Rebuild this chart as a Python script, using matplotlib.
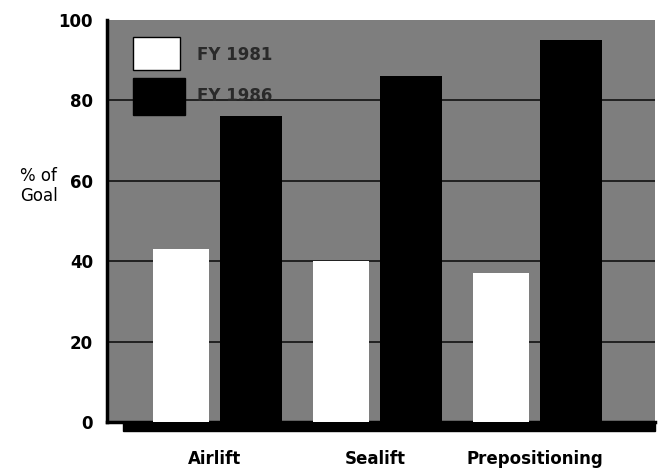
import matplotlib
matplotlib.use("Agg")
import matplotlib.pyplot as plt
from matplotlib.patches import Rectangle

categories = ["Airlift", "Sealift", "Prepositioning"]
series_names = ["FY 1981", "FY 1986"]
fy1981 = [43, 40, 37]
fy1986 = [76, 86, 95]
yticks = [0, 20, 40, 60, 80, 100]

fig = plt.figure(figsize=(6.6, 4.71), dpi=100)
fig.patch.set_facecolor("white")
ax = fig.add_axes([0.162, 0.104, 0.830, 0.854])
ax.set_facecolor("#7e7e7e")

x = list(range(len(categories)))
ax.bar([i - 0.21 for i in x], fy1981, width=0.35, color="white", zorder=3)
ax.bar([i + 0.225 for i in x], fy1986, width=0.39, color="black", zorder=3)

ax.set_xlim(-0.675, 2.75)
ax.set_ylim(0, 100)
ax.set_yticks(yticks)
ax.set_yticklabels([str(t) for t in yticks], fontsize=12, fontweight="bold")
ax.set_xticks(x)
ax.set_xticklabels(categories, fontsize=12, fontweight="bold")
ax.tick_params(axis="x", length=0, pad=20)
ax.tick_params(axis="y", length=0, pad=10)
for t in yticks[1:-1]:
    ax.axhline(t, color="#111111", lw=1.2, zorder=1)

for s in ["top", "right"]:
    ax.spines[s].set_visible(False)
ax.spines["left"].set_linewidth(2.5)
ax.spines["bottom"].set_linewidth(2.5)

# drop shadow under the plot area
ax.add_patch(Rectangle((0.03, -0.022), 0.97, 0.022, transform=ax.transAxes,
                       color="black", clip_on=False, zorder=0))

# legend drawn as keys + labels in axes fraction
ax.add_patch(Rectangle((0.047, 0.876), 0.086, 0.082, transform=ax.transAxes,
                       facecolor="white", edgecolor="black", lw=1, zorder=4))
ax.add_patch(Rectangle((0.047, 0.764), 0.095, 0.092, transform=ax.transAxes,
                       facecolor="black", edgecolor="black", lw=1, zorder=4))
ax.text(0.165, 0.913, series_names[0], transform=ax.transAxes, fontsize=12,
        fontweight="bold", color="#2a2a2a", va="center", zorder=4)
ax.text(0.165, 0.810, series_names[1], transform=ax.transAxes, fontsize=12,
        fontweight="bold", color="#2a2a2a", va="center", zorder=4)

fig.text(0.03, 0.605, "% of\nGoal", fontsize=12, ha="left", va="center", linespacing=1.1)

fig.savefig("out.png", dpi=100)
